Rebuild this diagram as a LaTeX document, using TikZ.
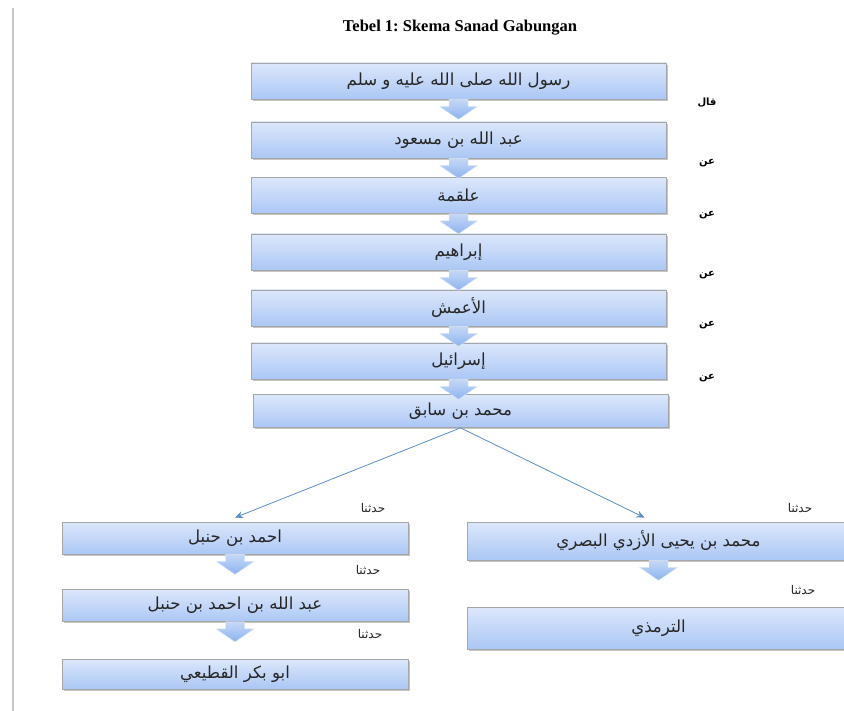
\documentclass[tikz,border=0pt]{standalone}
\usepackage{fontspec}
\setmainfont{Liberation Serif}
\newfontfamily\arabicfont[Script=Arabic]{DejaVu Sans}
\TeXXeTstate=1
\frenchspacing
\usetikzlibrary{calc,shadows,arrows.meta}
\newcommand{\artext}[1]{{\arabicfont\beginR #1\endR}}
\definecolor{kotakatas}{HTML}{DCE7FB}
\definecolor{kotakbawah}{HTML}{ABC7F5}
\definecolor{kotakgaris}{HTML}{A6A6A6}
\definecolor{panahatas}{HTML}{C4D8F7}
\definecolor{panahbawah}{HTML}{8DB3EF}
\definecolor{tautanbiru}{HTML}{5B8FD0}
\tikzset{
	rawi/.style={draw=kotakgaris, line width=0.8pt, top color=kotakatas, bottom color=kotakbawah,
		minimum height=36pt, inner sep=0pt, text=black!85, font=\fontsize{16.6}{19}\selectfont,
		drop shadow={shadow xshift=1.8pt, shadow yshift=-1.8pt, opacity=0.45}},
	blokpanah/.style={draw=panahatas!60!white, line width=0.4pt, top color=panahatas, bottom color=panahbawah},
	tautan/.style={draw=tautanbiru, line width=0.8pt, -{Stealth[length=8pt, width=7pt]}},
	qawl/.style={font=\bfseries\fontsize{10}{12}\selectfont},
	haddatsana/.style={font=\fontsize{12}{14}\selectfont, text=black!85}
}
% panah blok dari kotak #1 ke arah kotak #2
\newcommand{\turun}[2]{%
	\coordinate (s) at (#1.south);
	\coordinate (t) at ($(#1.south)!20pt!(#1.south |- #2.north)$);
	\path[blokpanah] ($(s)+(-9.5,0)$) -- ($(t)+(-9.5,-13)$) -- ($(t)+(-19,-13)$) -- (t)
		-- ($(t)+(19,-13)$) -- ($(t)+(9.5,-13)$) -- ($(s)+(9.5,0)$) -- cycle;
}
\begin{document}
\begin{tikzpicture}[x=1pt, y=-1pt, line join=round]
	\clip (0,0) rectangle (844,711);
	\fill[white] (0,0) rectangle (844,711);
	\draw[gray!45, line width=1.2pt] (13,8) -- (13,711);
	\node[font=\bfseries\fontsize{16.5}{19}\selectfont] (judul) at (460,28) {Tebel 1: Skema Sanad Gabungan};
	% jalur utama
	\node[rawi, minimum width=415pt] (m1) at (458.5,81) {\artext{رسول الله صلى الله عليه و سلم}};
	\node[rawi, minimum width=415pt] (m2) at (458.5,140) {\artext{عبد الله بن مسعود}};
	\node[rawi, minimum width=415pt] (m3) at (458.5,195.5) {\artext{علقمة}};
	\node[rawi, minimum width=415pt] (m4) at (458.5,252) {\artext{إبراهيم}};
	\node[rawi, minimum width=415pt] (m5) at (458.5,308) {\artext{الأعمش}};
	\node[rawi, minimum width=415pt] (m6) at (458.5,361) {\artext{إسرائيل}};
	\node[rawi, minimum width=415pt, minimum height=33pt] (m7) at (460.5,411) {\artext{محمد بن سابق}};
	% cabang kiri
	\node[rawi, minimum width=346pt, minimum height=32pt] (l1) at (235,538) {\artext{احمد بن حنبل}};
	\node[rawi, minimum width=346pt, minimum height=32pt] (l2) at (235,605.5) {\artext{عبد الله بن احمد بن حنبل}};
	\node[rawi, minimum width=346pt, minimum height=30pt] (l3) at (235,674) {\artext{ابو بكر القطيعي}};
	% cabang kanan
	\node[rawi, minimum width=383pt, minimum height=38pt] (r1) at (658.5,541) {\artext{محمد بن يحيى الأزدي البصري}};
	\node[rawi, minimum width=383pt, minimum height=42pt] (r2) at (658.5,628) {\artext{الترمذي}};
	\foreach \a/\b in {m1/m2, m2/m3, m3/m4, m4/m5, m5/m6, m6/m7, l1/l2, l2/l3, r1/r2}
	\turun{\a}{\b};
	\draw[tautan] (m7.south) -- ($(l1.north)+(0,-4)$);
	\draw[tautan] (m7.south) -- ($(r1.north)+(-14,-4)$);
	\node[qawl] (q1) at (707,103) {\artext{قال}};
	\foreach \y [count=\i] in {163,215,275,325,378}
	\node[qawl] (an\i) at (707,\y) {\artext{عن}};
	\foreach \x/\y [count=\i] in {373/508, 368/570, 370/634, 800/508, 803/590}
	\node[haddatsana] (h\i) at (\x,\y) {\artext{حدثنا}};
\end{tikzpicture}
\end{document}
